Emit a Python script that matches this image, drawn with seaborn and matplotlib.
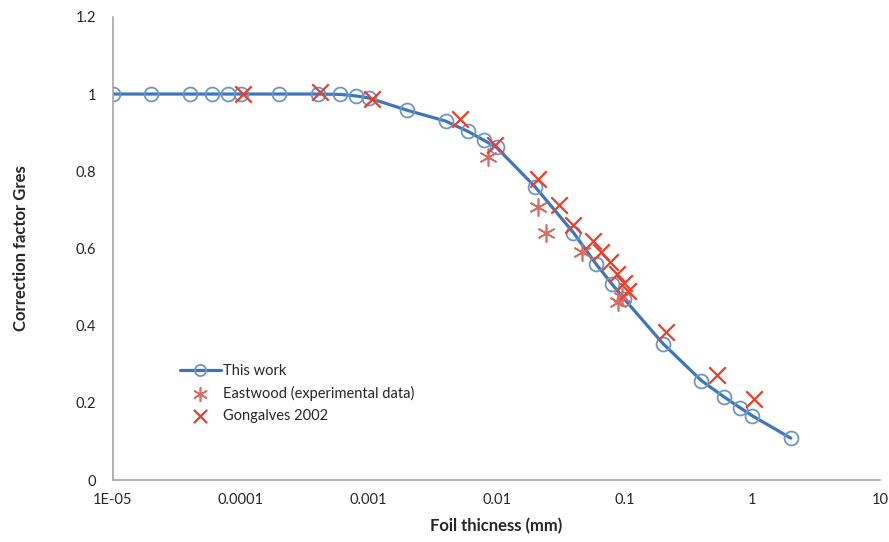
import matplotlib
matplotlib.use("Agg")
import matplotlib.pyplot as plt
import matplotlib.ticker as mticker
import numpy as np
import pandas as pd
import seaborn as sns

# --- data ---
# "This work" (smooth curve with open circles)
work_thickness = [1e-5, 2e-5, 4e-5, 6e-5, 8e-5, 1e-4, 2e-4, 4e-4, 6e-4, 8e-4,
                  1e-3, 2e-3, 4e-3, 6e-3, 8e-3, 1e-2, 2e-2, 4e-2, 6e-2, 8e-2,
                  0.1, 0.2, 0.4, 0.6, 0.8, 1.0, 2.0]
work_factor = [1.0, 1.0, 1.0, 1.0, 1.0, 1.0, 1.0, 1.0, 0.999, 0.995,
               0.99, 0.958, 0.93, 0.903, 0.88, 0.862, 0.76, 0.641, 0.56, 0.508,
               0.469, 0.354, 0.258, 0.216, 0.188, 0.167, 0.109]

# Eastwood (experimental data), asterisks
eastwood_thickness = [0.0086, 0.0212, 0.0245, 0.047, 0.089, 0.096]
eastwood_factor = [0.838, 0.708, 0.64, 0.59, 0.462, 0.475]

# Gongalves 2002, crosses
gon_thickness = [1.05e-4, 4.2e-4, 1.06e-3, 0.0052, 0.0098, 0.021, 0.031, 0.040,
                 0.057, 0.066, 0.077, 0.088, 0.099, 0.107, 0.212, 0.53, 1.04]
gon_factor = [1.0, 1.005, 0.987, 0.935, 0.868, 0.78, 0.713, 0.662,
              0.62, 0.59, 0.565, 0.535, 0.51, 0.49, 0.383, 0.273, 0.211]

x_ticks = [1e-5, 1e-4, 1e-3, 1e-2, 1e-1, 1, 10]
x_tick_labels = ["1E-05", "0.0001", "0.001", "0.01", "0.1", "1", "10"]
y_ticks = [0, 0.2, 0.4, 0.6, 0.8, 1.0, 1.2]
y_tick_labels = ["0", "0.2", "0.4", "0.6", "0.8", "1", "1.2"]

sns.set_style("white")
plt.rcParams['font.family'] = ['Lato', 'DejaVu Sans']

fig = plt.figure(figsize=(8.89, 5.42), dpi=100)
ax = fig.add_axes([0.127, 0.114, 0.863, 0.855])

work_df = pd.DataFrame({"x": work_thickness, "y": work_factor})
east_df = pd.DataFrame({"x": eastwood_thickness, "y": eastwood_factor})
gon_df = pd.DataFrame({"x": gon_thickness, "y": gon_factor})

line_blue = "#3F76BA"
circle_blue = "#6E95C9"

sns.lineplot(data=work_df, x="x", y="y", ax=ax, color=line_blue, linewidth=2.3,
             marker="o", markersize=10, markerfacecolor="none",
             markeredgecolor=circle_blue, markeredgewidth=1.3,
             label="This work", zorder=2)
sns.scatterplot(data=east_df, x="x", y="y", ax=ax, marker=(6, 2, 0), s=150,
                color="#DD6A60", linewidth=1.2, label="Eastwood (experimental data)",
                zorder=3)
sns.scatterplot(data=gon_df, x="x", y="y", ax=ax, marker="x", s=140,
                color="#E8402A", linewidth=1.6, label="Gongalves 2002", zorder=4)

ax.set_xscale("log")
ax.set_xlim(1e-5, 10)
ax.set_ylim(0, 1.2)
ax.set_xticks(x_ticks)
ax.set_xticklabels(x_tick_labels)
ax.xaxis.set_minor_locator(mticker.NullLocator())
ax.set_yticks(y_ticks)
ax.set_yticklabels(y_tick_labels)

ax.tick_params(axis="x", direction="inout", length=6, width=1, color="#A6A6A6",
               labelsize=10.5, labelcolor="#262626", pad=6)
ax.tick_params(axis="y", length=0, labelsize=10.5, labelcolor="#262626", pad=12)

for side in ["top", "right"]:
    ax.spines[side].set_visible(False)
for side in ["left", "bottom"]:
    ax.spines[side].set_color("#A6A6A6")
    ax.spines[side].set_linewidth(1.2)

ax.set_xlabel("Foil thicness (mm)", fontsize=12, fontweight="bold", color="#262626",
              labelpad=8)
ax.set_ylabel("Correction factor Gres", fontsize=12, fontweight="bold",
              color="#262626", labelpad=34)

leg = ax.legend(loc="lower left", bbox_to_anchor=(0.07, 0.095), frameon=False,
                fontsize=10.5, handlelength=2.8, handletextpad=0.2,
                labelspacing=0.55, markerscale=0.8)
for t in leg.get_texts():
    t.set_color("#262626")

fig.savefig("out.png", dpi=100)
